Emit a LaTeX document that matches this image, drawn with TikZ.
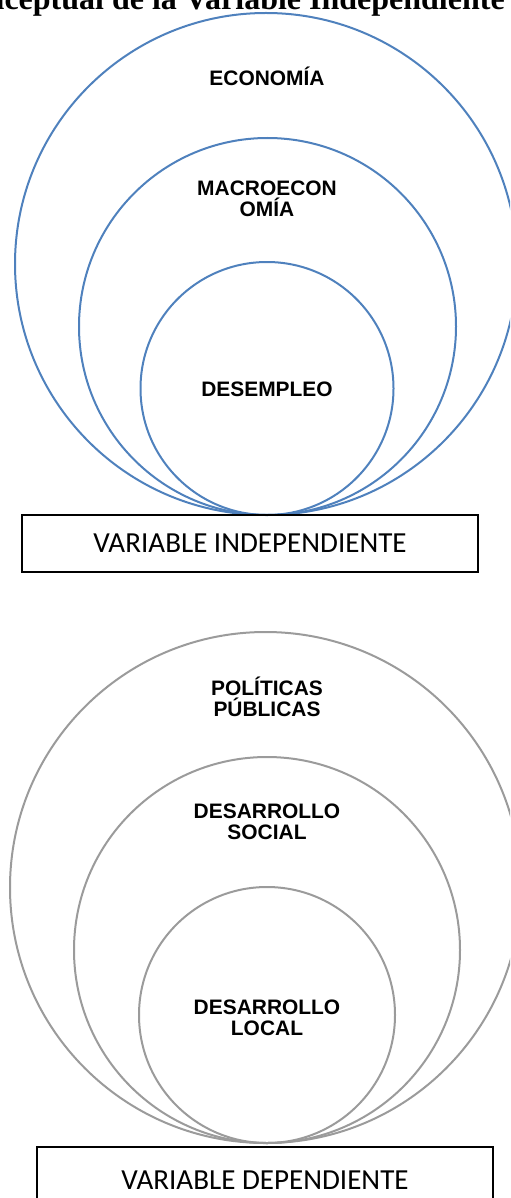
\documentclass[tikz,border=0pt]{standalone}
\usepackage{fontspec}
\setmainfont{Liberation Serif}
\newfontfamily\ringfont{Liberation Sans}
\newfontfamily\boxfont{Carlito}
\definecolor{ringblue}{RGB}{79,129,189}
\definecolor{ringgray}{RGB}{155,155,155}
\tikzset{
  ring/.style={circle, draw, line width=1.5pt, inner sep=0pt, minimum size=#1*0.75pt},
  ringtext/.style={font=\ringfont\bfseries\fontsize{15.7}{15.9}\selectfont, align=center, inner sep=0pt},
  varbox/.style={draw, line width=0.8pt, minimum width=456*0.75pt, minimum height=57*0.75pt,
    inner sep=0pt, font=\boxfont\fontsize{21.8}{24}\selectfont}
}
\begin{document}
\begin{tikzpicture}[x=0.75pt,y=-0.75pt]
      \useasboundingbox (0,0) rectangle (510,1198);
      \clip (0,0) rectangle (510,1198);
      % title, cut by the page edge
      \node[anchor=base east, inner sep=0pt, font=\bfseries\fontsize{24}{26}\selectfont]
        (title) at (505,10) {Conceptual de la Variable Independiente};
      % independent variable
      \begin{scope}[ringblue]
        \node[ring=502] (economia) at (266,264) {};
        \node[ring=377] (macro) at (267.5,326.5) {};
        \node[ring=253] (desempleo) at (267,388.5) {};
      \end{scope}
      \node[ringtext] (t1) at (267,76) {ECONOMÍA};
      \node[ringtext] (t2) at (267,199) {MACROECON\\OMÍA};
      \node[ringtext] (t3) at (267,389) {DESEMPLEO};
      \node[varbox] (vi) at (250,543.5) {VARIABLE INDEPENDIENTE};
      % dependent variable
      \begin{scope}[ringgray]
        \node[ring=511] (politicas) at (265.5,887.5) {};
        \node[ring=386] (social) at (267,950) {};
        \node[ring=256] (local) at (267,1015) {};
      \end{scope}
      \node[ringtext] (t4) at (267,697) {POLÍTICAS\\PÚBLICAS};
      \node[ringtext] (t5) at (267,822) {DESARROLLO\\SOCIAL};
      \node[ringtext] (t6) at (267,1018) {DESARROLLO\\LOCAL};
      \node[varbox, minimum height=66*0.75pt] (vd) at (265,1180) {VARIABLE DEPENDIENTE};
    \end{tikzpicture}
\end{document}
